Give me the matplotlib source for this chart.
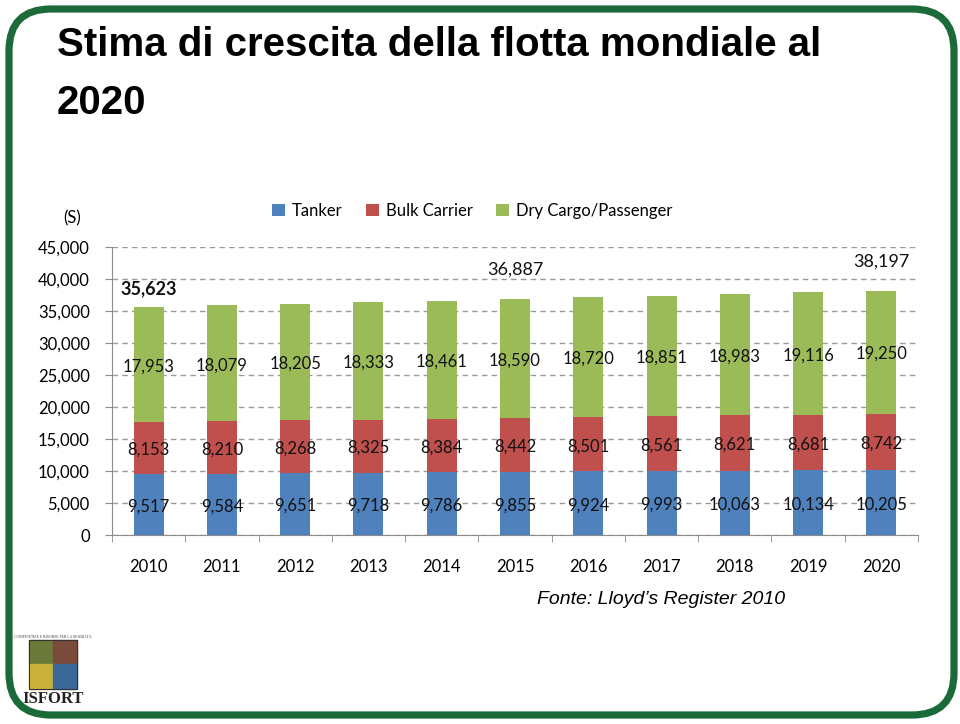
import matplotlib.pyplot as plt
import matplotlib.patches as mpatches
import matplotlib.transforms as mtransforms
import numpy as np

years = ["2010", "2011", "2012", "2013", "2014", "2015", "2016", "2017", "2018", "2019", "2020"]
tanker = [9517, 9584, 9651, 9718, 9786, 9855, 9924, 9993, 10063, 10134, 10205]
bulk = [8153, 8210, 8268, 8325, 8384, 8442, 8501, 8561, 8621, 8681, 8742]
dry = [17953, 18079, 18205, 18333, 18461, 18590, 18720, 18851, 18983, 19116, 19250]
series_names = ["Tanker", "Bulk Carrier", "Dry Cargo/Passenger"]
totals_shown = {"2010": 35623, "2015": 36887, "2020": 38197}

c_tank = "#4f81bd"
c_bulk = "#c0504d"
c_dry = "#9bbb59"
chart_font = "Lato"

fig = plt.figure(figsize=(9.6, 7.24), dpi=100)

# slide border
border = mpatches.FancyBboxPatch((9, 9), 945, 706, boxstyle="round,pad=0,rounding_size=42",
                                 transform=mtransforms.IdentityTransform(),
                                 fill=False, edgecolor="#1b6a3a", linewidth=5.2)
fig.patches.append(border)

# title
fig.text(57 / 960, 1 - 45 / 724, "Stima di crescita della flotta mondiale al",
         fontsize=29, fontweight="bold", family="Liberation Sans", va="center", color="black")
fig.text(57 / 960, 1 - 103 / 724, "2020",
         fontsize=29, fontweight="bold", family="Liberation Sans", va="center", color="black")

ax = fig.add_axes([112 / 960, 1 - 535 / 724, 806 / 960, 288 / 724])
x = np.arange(len(years))
w = 0.41
t = np.array(tanker)
b = np.array(bulk)
d = np.array(dry)
ax.bar(x, t, w, color=c_tank, label=series_names[0], zorder=3)
ax.bar(x, b, w, bottom=t, color=c_bulk, label=series_names[1], zorder=3)
ax.bar(x, d, w, bottom=t + b, color=c_dry, label=series_names[2], zorder=3)

for i in range(len(years)):
    ax.text(x[i], t[i] / 2 - 300, f"{tanker[i]:,}", ha="center", va="center",
            fontsize=12, family=chart_font, zorder=5, color="#111111")
    ax.text(x[i], t[i] + b[i] / 2 - 300, f"{bulk[i]:,}", ha="center", va="center",
            fontsize=12, family=chart_font, zorder=5, color="#111111")
    ax.text(x[i], t[i] + b[i] + d[i] / 2 - 300, f"{dry[i]:,}", ha="center", va="center",
            fontsize=12, family=chart_font, zorder=5, color="#111111")

offsets = {"2010": 7, "2015": 15, "2020": 15}
for yr, tot in totals_shown.items():
    i = years.index(yr)
    ax.annotate(f"{tot:,}", (x[i], tot), xytext=(0, offsets[yr]), textcoords="offset points",
                ha="center", va="bottom", fontsize=13, family=chart_font,
                fontweight="bold" if yr == "2010" else "normal", color="#111111")

ax.set_xlim(-0.5, len(years) - 0.5)
ax.set_ylim(0, 45000)
ax.set_yticks(np.arange(0, 45001, 5000))
ax.set_yticklabels([f"{v:,}" for v in range(0, 45001, 5000)], family=chart_font, fontsize=12)
ax.yaxis.grid(True, linestyle=(0, (4, 3)), color="#9a9a9a", linewidth=1, zorder=0)
ax.set_xticks(x)
ax.set_xticklabels(years, family=chart_font, fontsize=12)
ax.set_xticks(np.arange(-0.5, len(years)), minor=True)
ax.tick_params(axis="x", which="major", length=0, pad=17)
ax.tick_params(axis="x", which="minor", length=5, color="#8c8c8c")
ax.tick_params(axis="y", length=5, color="#8c8c8c", pad=11)
for s in ["top", "right"]:
    ax.spines[s].set_visible(False)
ax.spines["left"].set_color("#8c8c8c")
ax.spines["bottom"].set_color("#8c8c8c")

ax.legend(loc="lower left", bbox_to_anchor=(0.19, 1.075), ncol=3, frameon=False,
          prop={"family": chart_font, "size": 12}, handlelength=0.8, handleheight=0.8,
          handletextpad=0.4, columnspacing=1.4, borderaxespad=0)

fig.text(72 / 960, 1 - 218 / 724, "(S)", family=chart_font, fontsize=12, ha="center", va="center")

fig.text(537 / 960, 1 - 600 / 724, "Fonte: Lloyd\u2019s Register 2010", family="Liberation Sans",
         style="italic", fontsize=14, va="center", ha="left")

# ISFORT logo (approximate)
lax = fig.add_axes([18 / 960, 1 - 706 / 724, 70 / 960, 72 / 724])
lax.set_xlim(0, 70)
lax.set_ylim(0, 72)
lax.axis("off")
lax.add_patch(mpatches.Rectangle((11, 42), 24, 24, color="#6b7a3a"))
lax.add_patch(mpatches.Rectangle((35, 42), 24, 24, color="#7a4a3a"))
lax.add_patch(mpatches.Rectangle((11, 17), 24, 25, color="#c9b13a"))
lax.add_patch(mpatches.Rectangle((35, 17), 24, 25, color="#3a6a9a"))
lax.add_patch(mpatches.Rectangle((11, 17), 48, 49, fill=False, edgecolor="#333333", linewidth=0.8))
lax.text(35, 7, "ISFORT", family="Liberation Serif", fontweight="bold", fontsize=12,
         ha="center", va="center", color="#222222")
lax.text(35, 69, "COMPETENZE E RISORSE PER LA MOBILIT\u00c0", family="Liberation Serif",
         fontsize=2.8, ha="center", va="center", color="#444444")

fig.savefig("out.png", dpi=100)
